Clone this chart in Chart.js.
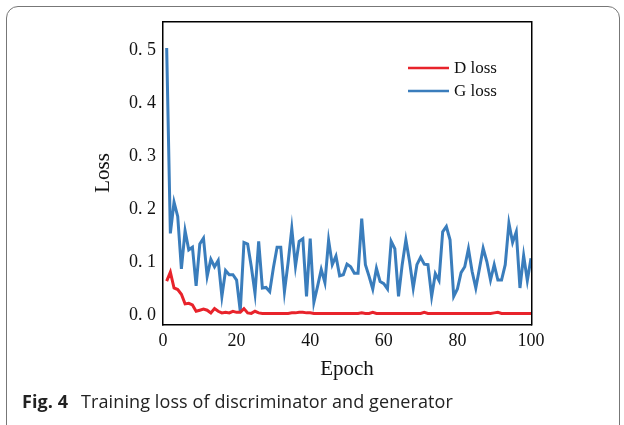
<!DOCTYPE html>
<html>
<head>
<meta charset="utf-8">
<script src="https://cdn.jsdelivr.net/npm/chart.js@4.4.1/dist/chart.umd.min.js"></script>
<style>
  html, body { margin: 0; padding: 0; background: #fff; }
  #wrap { position: relative; width: 624px; height: 425px; overflow: hidden; }
  #frame {
    position: absolute; left: 6px; top: 6px; width: 614px; height: 440px;
    border: 1px solid #777; border-radius: 12px; box-sizing: border-box;
  }
  #chart { position: absolute; left: 0; top: 0; }
  #caption {
    position: absolute; left: 22px; top: 389px;
    font-family: "Open Sans", sans-serif; font-size: 18px; color: #222;
    white-space: nowrap; letter-spacing: 0.1px;
  }
  #caption b { font-weight: 700; margin-right: 8px; }
</style>
</head>
<body>
<div id="wrap">
  <div id="frame"></div>
  <canvas id="chart" width="624" height="425"></canvas>
  <div id="caption"><b>Fig. 4</b> Training loss of discriminator and generator</div>
</div>
<script>
const epochs = Array.from({ length: 100 }, (_, i) => i + 1);

const dLoss = [
  0.065, 0.082, 0.052, 0.049, 0.040, 0.022, 0.023, 0.020, 0.008, 0.010,
  0.012, 0.010, 0.005, 0.013, 0.008, 0.005, 0.006, 0.005, 0.008, 0.006,
  0.006, 0.013, 0.005, 0.004, 0.008, 0.005, 0.004, 0.004, 0.004, 0.004,
  0.004, 0.004, 0.004, 0.004, 0.005, 0.005, 0.006, 0.006, 0.005, 0.005,
  0.004, 0.004, 0.004, 0.004, 0.004, 0.004, 0.004, 0.004, 0.004, 0.004,
  0.004, 0.004, 0.004, 0.005, 0.004, 0.004, 0.006, 0.004, 0.004, 0.004,
  0.004, 0.004, 0.004, 0.004, 0.004, 0.004, 0.004, 0.004, 0.004, 0.004,
  0.006, 0.004, 0.004, 0.004, 0.004, 0.004, 0.004, 0.004, 0.004, 0.004,
  0.004, 0.004, 0.004, 0.004, 0.004, 0.004, 0.004, 0.004, 0.004, 0.005,
  0.006, 0.004, 0.004, 0.004, 0.004, 0.004, 0.004, 0.004, 0.004, 0.004,
];

const gLoss = [
  0.505, 0.155, 0.214, 0.187, 0.088, 0.160, 0.124, 0.129, 0.056, 0.135,
  0.146, 0.074, 0.106, 0.092, 0.104, 0.036, 0.085, 0.077, 0.077, 0.067,
  0.008, 0.138, 0.135, 0.092, 0.042, 0.140, 0.052, 0.053, 0.045, 0.090,
  0.129, 0.129, 0.045, 0.100, 0.164, 0.093, 0.140, 0.145, 0.036, 0.145,
  0.025, 0.055, 0.087, 0.062, 0.142, 0.096, 0.112, 0.075, 0.077, 0.097,
  0.092, 0.080, 0.080, 0.183, 0.096, 0.074, 0.050, 0.089, 0.064, 0.060,
  0.050, 0.140, 0.126, 0.036, 0.096, 0.143, 0.102, 0.052, 0.096, 0.110,
  0.097, 0.096, 0.036, 0.079, 0.066, 0.158, 0.168, 0.143, 0.036, 0.050,
  0.081, 0.092, 0.126, 0.083, 0.052, 0.089, 0.127, 0.102, 0.067, 0.096,
  0.067, 0.067, 0.096, 0.174, 0.138, 0.158, 0.052, 0.113, 0.066, 0.108,
];

const xTicks = [0, 20, 40, 60, 80, 100];
const yTicks = [0, 0.1, 0.2, 0.3, 0.4, 0.5];

const seriesNames = ['D loss', 'G loss'];
const seriesColors = ['#e8232b', '#3a7dbc'];

const serif = '"Liberation Serif", "Times New Roman", serif';

// plot box (filled strips) and the legend inside the top right corner
const boxAndLegend = {
  id: 'boxAndLegend',
  afterDraw(chart) {
    const { ctx, chartArea: a } = chart;
    const l = Math.round(a.left);
    const r = Math.round(a.right);
    const t = Math.round(a.top);
    const b = Math.round(a.bottom);
    ctx.save();
    ctx.fillStyle = '#000';
    ctx.fillRect(l - 1, t - 1, r - l + 2, 1.5);
    ctx.fillRect(l - 1, b, r - l + 2, 1.5);
    ctx.fillRect(l - 1, t - 1, 1.5, b - t + 2.5);
    ctx.fillRect(r, t - 1, 1.5, b - t + 2.5);

    ctx.font = `17px ${serif}`;
    ctx.textBaseline = 'middle';
    ctx.textAlign = 'left';
    seriesNames.forEach((name, i) => {
      const y = a.top + 46 + i * 23;
      ctx.strokeStyle = seriesColors[i];
      ctx.lineWidth = 2.5;
      ctx.beginPath();
      ctx.moveTo(a.right - 123, y);
      ctx.lineTo(a.right - 82, y);
      ctx.stroke();
      ctx.fillStyle = '#111';
      ctx.fillText(name, a.right - 77, y + 1);
    });
    ctx.restore();
  },
};

const toPoints = (values) => values.map((v, i) => ({ x: epochs[i], y: v }));

new Chart(document.getElementById('chart').getContext('2d'), {
  type: 'line',
  data: {
    datasets: [
      {
        label: seriesNames[0],
        data: toPoints(dLoss),
        borderColor: seriesColors[0],
        borderWidth: 3,
        pointRadius: 0,
        tension: 0,
        order: 1,
      },
      {
        label: seriesNames[1],
        data: toPoints(gLoss),
        borderColor: seriesColors[1],
        borderWidth: 3,
        pointRadius: 0,
        tension: 0,
        order: 2,
      },
    ],
  },
  options: {
    responsive: false,
    animation: false,
    layout: { padding: { top: 22, right: 93, left: 0, bottom: 0 } },
    plugins: { legend: { display: false }, tooltip: { enabled: false } },
    scales: {
      x: {
        type: 'linear',
        min: 0,
        max: 100,
        afterBuildTicks: (scale) => { scale.ticks = xTicks.map((v) => ({ value: v })); },
        afterFit: (scale) => { scale.height = 101; },
        grid: { display: false, drawTicks: false },
        border: { display: false },
        ticks: { color: '#111', font: { family: serif, size: 18 }, padding: 6, maxRotation: 0 },
        title: {
          display: true,
          text: 'Epoch',
          color: '#111',
          font: { family: serif, size: 21 },
          padding: { top: 0, bottom: 43 },
        },
      },
      y: {
        min: -0.016,
        max: 0.554,
        afterBuildTicks: (scale) => { scale.ticks = yTicks.map((v) => ({ value: v })); },
        afterFit: (scale) => { scale.width = 163; },
        grid: { display: false, drawTicks: false },
        border: { display: false },
        ticks: {
          color: '#111',
          font: { family: serif, size: 18 },
          padding: 7,
          callback: (v) => v.toFixed(1).replace('.', '. '),
        },
        title: {
          display: true,
          text: 'Loss',
          color: '#111',
          font: { family: serif, size: 21 },
          padding: { top: 91, bottom: 0 },
        },
      },
    },
  },
  plugins: [boxAndLegend],
});
</script>
</body>
</html>
